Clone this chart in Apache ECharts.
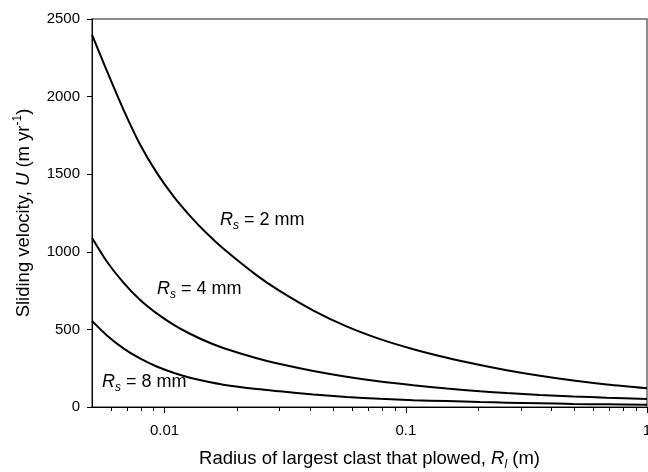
<!DOCTYPE html>
<html>
<head>
<meta charset="utf-8">
<script src="https://cdn.jsdelivr.net/npm/echarts@6/dist/echarts.min.js"></script>
<style>
  html, body { margin: 0; padding: 0; background: #fff; }
  #main { width: 648px; height: 472px; }
</style>
</head>
<body>
<div id="main"></div>
<script>
// ********
// * Data *
// ********

// Radius of largest clast that plowed, R_l (m)
const radius = [0.005, 0.00575, 0.00675, 0.0079, 0.00927, 0.01087, 0.01274, 0.01494, 0.0175,
  0.0241, 0.0301, 0.0414, 0.0568, 0.0782, 0.1075, 0.148, 0.203, 0.262, 0.36, 0.495, 0.68, 1];

// Sliding velocity U (m/yr) for each clast size R_s
const velocityRs2 = [2400, 2169, 1916, 1693, 1510, 1359, 1232, 1119, 1021,
  848, 746, 621, 519, 437, 372, 317, 270, 237, 201, 170, 145, 121];
const velocityRs4 = [1090, 939, 801, 691, 603, 531, 472, 422, 380,
  314, 277, 232, 195, 164, 140, 119, 102, 90, 78, 68, 60, 51];
const velocityRs8 = [555, 463, 378, 313, 261, 221, 189, 164, 144,
  116, 101, 81, 65, 53, 44, 38, 32, 28, 24, 20, 17, 14];

// Axis ticks
const xMajorTicks = [0.01, 0.1, 1];
const xMinorTicks = [0.006, 0.007, 0.008, 0.009, 0.02, 0.03, 0.04, 0.05, 0.06, 0.07, 0.08, 0.09,
  0.2, 0.3, 0.4, 0.5, 0.6, 0.7, 0.8, 0.9];
const curveLabels = ["2 mm", "4 mm", "8 mm"];

// *************
// * Functions *
// *************

const chart = echarts.init(document.getElementById("main"));
const font = "'Liberation Sans', Arial, Helvetica, sans-serif";

function toPairs(values) {
  return values.map((v, i) => [radius[i], v]);
}

function curveSeries(values) {
  return {
    type: "line",
    data: toPairs(values),
    showSymbol: false,
    smooth: 0.3,
    silent: true,
    lineStyle: { color: "#000", width: 2 },
  };
}

function curveLabel(text, left, top) {
  return {
    type: "text",
    left: left,
    top: top,
    silent: true,
    style: {
      text: `{r|R}{s|s}{t| = ${text}}`,
      rich: {
        r: { fontFamily: font, fontSize: 18, fontStyle: "italic", lineHeight: 24, color: "#000" },
        s: { fontFamily: font, fontSize: 12, fontStyle: "italic", lineHeight: 10, verticalAlign: "bottom", color: "#000" },
        t: { fontFamily: font, fontSize: 18, lineHeight: 24, color: "#000" },
      },
    },
  };
}

const option = {
  animation: false,
  backgroundColor: "#fff",
  textStyle: { fontFamily: font },
  grid: {
    left: 92,
    right: 1,
    top: 19,
    bottom: 65,
    outerBoundsMode: "none",
    containLabel: false,
    show: true,
    borderColor: "#666",
    borderWidth: 1.5,
  },
  xAxis: [
    {
      type: "log",
      logBase: 10,
      min: 0.005,
      max: 1,
      name: "Radius of largest clast that plowed, {i|R}{sub|l}{n| (m)}",
      nameLocation: "middle",
      nameGap: 40,
      nameTextStyle: {
        fontFamily: font,
        fontSize: 18.5,
        color: "#000",
        rich: {
          i: { fontFamily: font, fontSize: 18.5, fontStyle: "italic", lineHeight: 24, color: "#000" },
          sub: { fontFamily: font, fontSize: 12, fontStyle: "italic", lineHeight: 10, verticalAlign: "bottom", color: "#000" },
          n: { fontFamily: font, fontSize: 18.5, lineHeight: 24, color: "#000" },
        },
      },
      axisLine: { show: true, lineStyle: { color: "#000", width: 1 } },
      axisTick: { show: true, customValues: xMajorTicks, length: 6, lineStyle: { color: "#000" } },
      axisLabel: {
        customValues: xMajorTicks,
        margin: 16,
        fontSize: 15,
        color: "#000",
        fontFamily: font,
        formatter: (v) => String(+(+v).toPrecision(3)),
      },
      splitLine: { show: false },
    },
    {
      // minor ticks only
      type: "log",
      logBase: 10,
      min: 0.005,
      max: 1,
      position: "bottom",
      axisLine: { show: false },
      axisTick: { show: true, customValues: xMinorTicks, length: 4, lineStyle: { color: "#000" } },
      axisLabel: { show: false },
      splitLine: { show: false },
    },
  ],
  yAxis: {
    type: "value",
    min: 0,
    max: 2500,
    interval: 500,
    name: "{n|Sliding velocity, }{i|U}{n| (m yr}{sup|-1}{n|)}",
    nameLocation: "middle",
    nameRotate: 90,
    nameGap: 56,
    nameTextStyle: {
      fontFamily: font,
      fontSize: 18.5,
      color: "#000",
      rich: {
        n: { fontFamily: font, fontSize: 18.5, lineHeight: 24, color: "#000" },
        i: { fontFamily: font, fontSize: 18.5, fontStyle: "italic", lineHeight: 24, color: "#000" },
        sup: { fontFamily: font, fontSize: 12, lineHeight: 12, verticalAlign: "top", color: "#000" },
      },
    },
    axisLine: { show: true, lineStyle: { color: "#000", width: 1 } },
    axisTick: { show: true, length: 5, lineStyle: { color: "#000" } },
    axisLabel: {
      margin: 12,
      fontSize: 15,
      color: "#000",
      fontFamily: font,
      formatter: (v) => String(v),
    },
    splitLine: { show: false },
  },
  series: [
    curveSeries(velocityRs2),
    curveSeries(velocityRs4),
    curveSeries(velocityRs8),
  ],
  graphic: [
    curveLabel(curveLabels[0], 220, 211),
    curveLabel(curveLabels[1], 157, 280),
    curveLabel(curveLabels[2], 102, 373),
  ],
};

chart.setOption(option);
</script>
</body>
</html>
